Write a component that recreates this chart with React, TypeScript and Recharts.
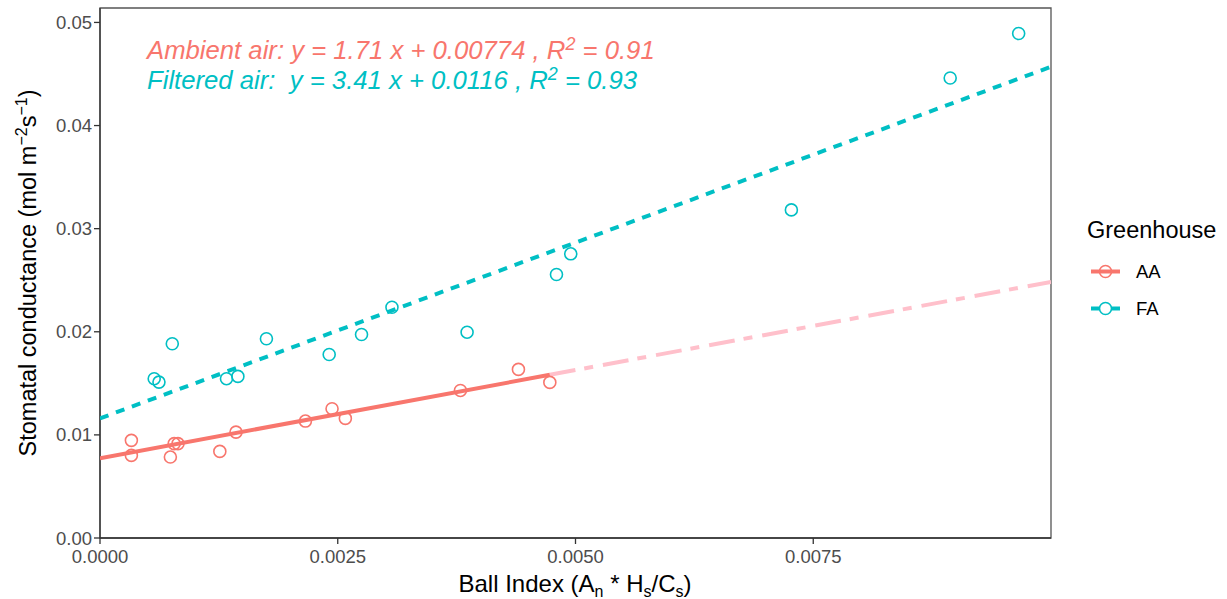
import * as React from 'react';
import {
  ReferenceArea,
  Scatter,
  ScatterChart,
  XAxis,
  YAxis,
} from 'recharts';

// measured points, Ambient air (AA) greenhouse
const aaX = [0.00033, 0.00033, 0.00074, 0.00078, 0.00082, 0.00126, 0.00143, 0.00216, 0.00244, 0.00258, 0.00379, 0.0044, 0.00473];
const aaY = [0.00947, 0.00801, 0.00785, 0.00915, 0.00915, 0.0084, 0.01027, 0.01134, 0.01254, 0.0116, 0.01431, 0.01635, 0.01509];

// measured points, Filtered air (FA) greenhouse
const faX = [0.00057, 0.00062, 0.00076, 0.00133, 0.00145, 0.00175, 0.00241, 0.00275, 0.00307, 0.00386, 0.0048, 0.00495, 0.00727, 0.00894, 0.00966];
const faY = [0.01545, 0.01512, 0.01884, 0.01545, 0.01567, 0.01932, 0.0178, 0.01974, 0.02238, 0.01996, 0.02555, 0.02756, 0.03182, 0.04461, 0.04893];

// regression fits: [slope, intercept]
const aaFit = [1.71, 0.00774];
const faFit = [3.41, 0.0116];
// fitted range of AA, then its extrapolated part
const aaFitRange = [0, 0.00473];
const aaExtRange = [0.00473, 0.01];
const faFitRange = [0, 0.01];

const xTicks = [0, 0.0025, 0.005, 0.0075];
const yTicks = [0, 0.01, 0.02, 0.03, 0.04, 0.05];
const xDomain = [0, 0.01];
const yDomain = [0, 0.0514];

const RED = '#F8766D';
const CYAN = '#00BFC4';
const PINK = '#FFC0CB';
const FONT = '"Liberation Sans", Arial, Helvetica, sans-serif';

const toPoints = (xs: number[], ys: number[]) => xs.map((x, i) => ({ x, y: ys[i] }));
const fitLine = (fit: number[], range: number[]) =>
  range.map((x) => ({ x, y: fit[0] * x + fit[1] }));

const aaPoints = toPoints(aaX, aaY);
const faPoints = toPoints(faX, faY);

const OpenCircle = (color: string) => (props: any) =>
  <circle cx={props.cx} cy={props.cy} r={6} fill="none" stroke={color} strokeWidth={1.6} />;

const NoDot = () => <g />;

export default function App() {
  const tickStyle = { fill: '#4d4d4d', fontSize: 18.5, fontFamily: FONT };
  return (
    <div style={{ position: 'absolute', left: 0, top: 0, width: 1227, height: 599, background: '#fff' }}>
      <ScatterChart width={1227} height={599} margin={{ top: 8, right: 176, bottom: 31, left: 40 }}>
        <XAxis
          type="number"
          dataKey="x"
          domain={xDomain}
          ticks={xTicks}
          allowDataOverflow
          height={30}
          tickSize={6}
          tickMargin={6}
          tick={tickStyle}
          tickFormatter={(v: number) => v.toFixed(4)}
          axisLine={{ stroke: '#333', strokeWidth: 1.3 }}
          tickLine={{ stroke: '#333', strokeWidth: 1.3 }}
        />
        <YAxis
          type="number"
          dataKey="y"
          domain={yDomain}
          ticks={yTicks}
          allowDataOverflow
          width={60}
          tickSize={6}
          tickMargin={2}
          tick={tickStyle}
          tickFormatter={(v: number) => v.toFixed(2)}
          axisLine={{ stroke: '#333', strokeWidth: 1.3 }}
          tickLine={{ stroke: '#333', strokeWidth: 1.3 }}
        />
        <ReferenceArea
          x1={xDomain[0]}
          x2={xDomain[1]}
          y1={yDomain[0]}
          y2={yDomain[1]}
          fill="none"
          stroke="#555"
          strokeWidth={1.3}
          ifOverflow="visible"
        />
        <Scatter
          data={fitLine(faFit, faFitRange)}
          line={{ stroke: CYAN, strokeWidth: 4, strokeDasharray: '9 8' }}
          shape={NoDot}
          legendType="none"
          isAnimationActive={false}
        />
        <Scatter
          data={fitLine(aaFit, aaExtRange)}
          line={{ stroke: PINK, strokeWidth: 4, strokeDasharray: '26 9 9 10' }}
          shape={NoDot}
          legendType="none"
          isAnimationActive={false}
        />
        <Scatter
          data={fitLine(aaFit, aaFitRange)}
          line={{ stroke: RED, strokeWidth: 4 }}
          shape={NoDot}
          legendType="none"
          isAnimationActive={false}
        />
        <Scatter data={aaPoints} shape={OpenCircle(RED)} isAnimationActive={false} />
        <Scatter data={faPoints} shape={OpenCircle(CYAN)} isAnimationActive={false} />

        {/* equations */}
        <text x={147} y={59} fill={RED} fontSize={25.7} fontStyle="italic" fontFamily={FONT}>
          Ambient air: y = 1.71 x + 0.00774 , R<tspan dy={-9} fontSize={18}>2</tspan>
          <tspan dy={9}> = 0.91</tspan>
        </text>
        <text x={147} y={89} fill={CYAN} fontSize={25.7} fontStyle="italic" fontFamily={FONT} xmlSpace="preserve">
          Filtered air:  y = 3.41 x + 0.0116 , R<tspan dy={-9} fontSize={18}>2</tspan>
          <tspan dy={9}> = 0.93</tspan>
        </text>

        {/* axis titles */}
        <text x={575} y={592} textAnchor="middle" fill="#000" fontSize={24} fontFamily={FONT}>
          Ball Index (A<tspan dy={5} fontSize={16}>n</tspan>
          <tspan dy={-5}> * H</tspan>
          <tspan dy={5} fontSize={16}>s</tspan>
          <tspan dy={-5}>/C</tspan>
          <tspan dy={5} fontSize={16}>s</tspan>
          <tspan dy={-5}>)</tspan>
        </text>
        <text
          x={0}
          y={0}
          transform="translate(36, 273) rotate(-90)"
          textAnchor="middle"
          fill="#000"
          fontSize={23.5}
          fontFamily={FONT}
        >
          Stomatal conductance (mol m<tspan dy={-9} fontSize={16}>−2</tspan>
          <tspan dy={9}>s</tspan>
          <tspan dy={-9} fontSize={16}>−1</tspan>
          <tspan dy={9}>)</tspan>
        </text>

        {/* legend */}
        <text x={1087} y={238} fill="#000" fontSize={23.5} fontFamily={FONT}>Greenhouse</text>
        <line x1={1091} x2={1120} y1={271.5} y2={271.5} stroke={RED} strokeWidth={4} />
        <circle cx={1105.5} cy={271.5} r={6} fill="none" stroke={RED} strokeWidth={1.6} />
        <text x={1136} y={278} fill="#000" fontSize={18.5} fontFamily={FONT}>AA</text>
        <line x1={1091} x2={1099} y1={308.5} y2={308.5} stroke={CYAN} strokeWidth={4} />
        <line x1={1112} x2={1120} y1={308.5} y2={308.5} stroke={CYAN} strokeWidth={4} />
        <circle cx={1105.5} cy={308.5} r={6} fill="#fff" stroke={CYAN} strokeWidth={1.6} />
        <text x={1136} y={315} fill="#000" fontSize={18.5} fontFamily={FONT}>FA</text>
      </ScatterChart>
    </div>
  );
}
